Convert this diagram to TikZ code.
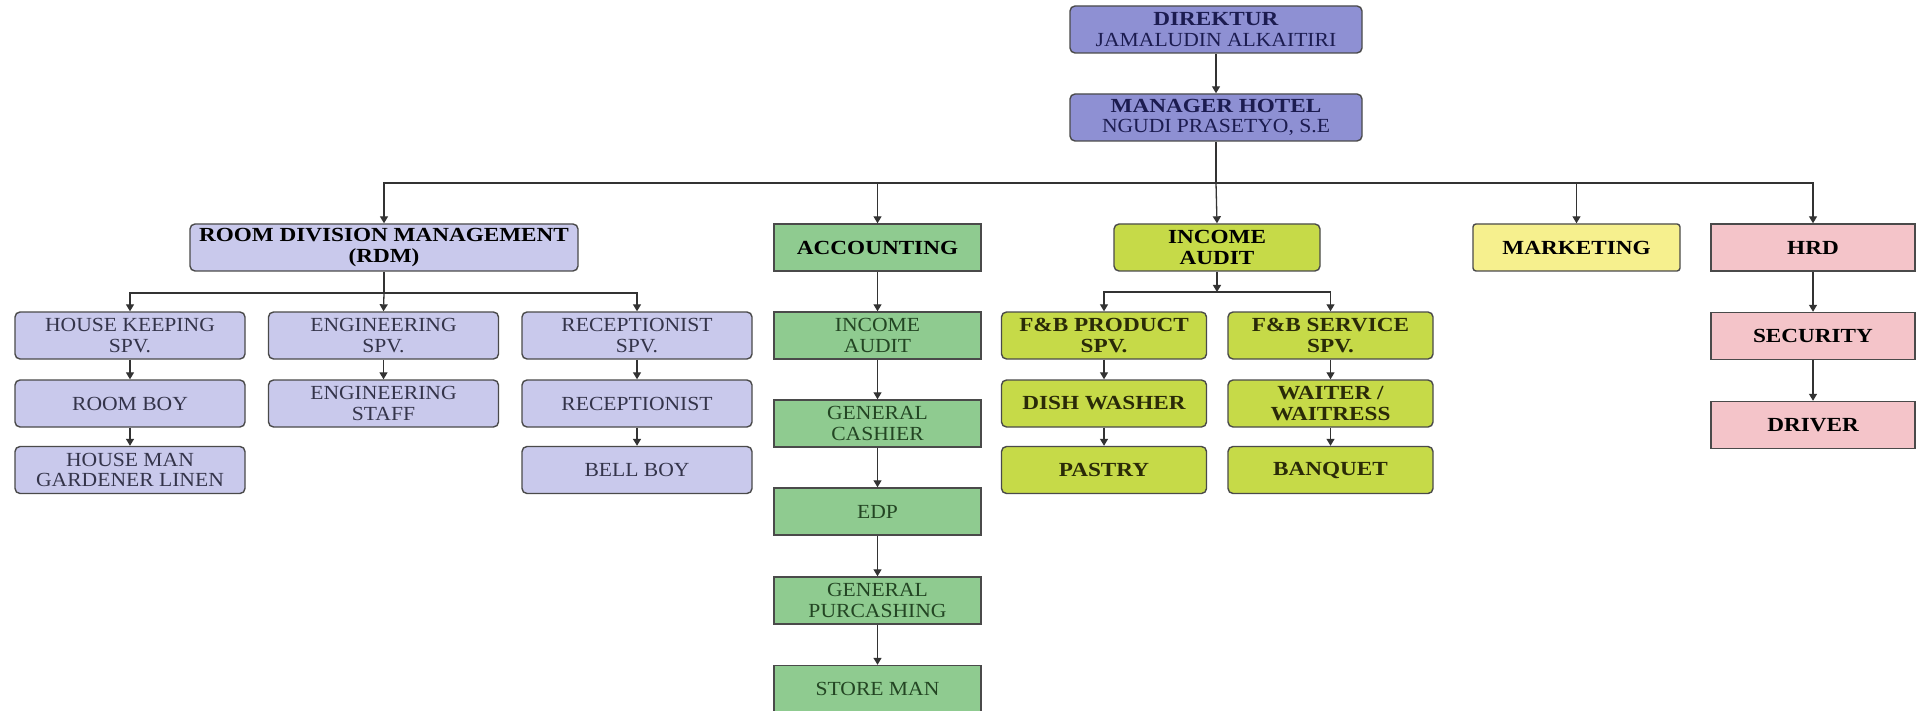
\documentclass[tikz,border=0pt]{standalone}
\usepackage{fontspec}
\setmainfont{Liberation Serif}[FakeStretch=1.08, BoldFeatures={FakeStretch=1.16}]
\usetikzlibrary{arrows.meta}
\definecolor{dirfill}{HTML}{8E90D3}
\definecolor{lavfill}{HTML}{C9C9EC}
\definecolor{grnfill}{HTML}{8FCB90}
\definecolor{ygfill}{HTML}{C6DA48}
\definecolor{mkfill}{HTML}{F6F08E}
\definecolor{pkfill}{HTML}{F4C4C9}
\definecolor{bordercol}{HTML}{4A4A4A}
\definecolor{linecol}{HTML}{333333}
\definecolor{navytxt}{HTML}{1C1C50}
\definecolor{lavtxt}{HTML}{34344A}
\definecolor{grntxt}{HTML}{234523}
\definecolor{ygtxt}{HTML}{2A2A08}
\tikzset{
  box/.style={draw=bordercol, line width=1.4pt, align=center, inner sep=0pt,
    minimum height=47pt, font=\fontsize{20}{20.5}\selectfont},
  dirbox/.style={box, fill=dirfill, rounded corners=5pt, minimum width=292pt, text=navytxt},
  lavhead/.style={box, fill=lavfill, rounded corners=5pt, text=black, font=\fontsize{20}{20.5}\selectfont\bfseries},
  lavbox/.style={box, fill=lavfill, rounded corners=5pt, minimum width=230pt, text=lavtxt},
  grnhead/.style={box, fill=grnfill, minimum width=207pt, text=black, font=\fontsize{20}{20.5}\selectfont\bfseries},
  grnbox/.style={box, fill=grnfill, minimum width=207pt, text=grntxt},
  yghead/.style={box, fill=ygfill, rounded corners=5pt, minimum width=206pt, text=black, font=\fontsize{20}{20.5}\selectfont\bfseries},
  ygbox/.style={box, fill=ygfill, rounded corners=5pt, minimum width=205pt, text=ygtxt, font=\fontsize{20}{20.5}\selectfont\bfseries},
  mkbox/.style={box, fill=mkfill, rounded corners=3pt, minimum width=207pt, text=black, font=\fontsize{20}{20.5}\selectfont\bfseries},
  pkbox/.style={box, fill=pkfill, minimum width=204pt, text=black, font=\fontsize{20}{20.5}\selectfont\bfseries},
  conn/.style={draw=linecol, line width=1.3pt},
  arr/.style={conn, -{Triangle[width=8pt,length=7pt]}}
}
\begin{document}
\begin{tikzpicture}[x=1pt,y=-1pt]
\useasboundingbox (0,0) rectangle (1924,711);
\fill[white] (0,0) rectangle (1924,711);
% top
\node[dirbox] (dir) at (1216,29.5) {\textbf{DIREKTUR}\\JAMALUDIN ALKAITIRI};
\node[dirbox] (mgr) at (1216,117.5) {\textbf{MANAGER HOTEL}\\NGUDI PRASETYO, S.E};
% heads
\node[lavhead, minimum width=388pt] (rdm) at (384,247.5) {ROOM DIVISION MANAGEMENT\\(RDM)};
\node[grnhead] (acc) at (877.5,247.5) {ACCOUNTING};
\node[yghead] (ia) at (1217,247.5) {INCOME\\AUDIT};
\node[mkbox] (mkt) at (1576.5,247.5) {MARKETING};
\node[pkbox] (hrd) at (1813,247.5) {HRD};
% RDM children
\node[lavbox] (hk) at (130,335.5) {HOUSE KEEPING\\SPV.};
\node[lavbox] (rb) at (130,403.5) {ROOM BOY};
\node[lavbox] (hm) at (130,470) {HOUSE MAN\\GARDENER LINEN};
\node[lavbox] (eng) at (383.5,335.5) {ENGINEERING\\SPV.};
\node[lavbox] (es) at (383.5,403.5) {ENGINEERING\\STAFF};
\node[lavbox] (rec) at (637,335.5) {RECEPTIONIST\\SPV.};
\node[lavbox] (rcp) at (637,403.5) {RECEPTIONIST};
\node[lavbox] (bb) at (637,470) {BELL BOY};
% accounting children
\node[grnbox] (ia2) at (877.5,335.5) {INCOME\\AUDIT};
\node[grnbox] (gc) at (877.5,423.5) {GENERAL\\CASHIER};
\node[grnbox] (edp) at (877.5,511.5) {EDP};
\node[grnbox] (gp) at (877.5,600.5) {GENERAL\\PURCASHING};
\node[grnbox] (sm) at (877.5,689) {STORE MAN};
% income audit children
\node[ygbox] (fbp) at (1104,335.5) {F\&B PRODUCT\\SPV.};
\node[ygbox] (dw) at (1104,403.5) {DISH WASHER};
\node[ygbox] (ps) at (1104,470) {PASTRY};
\node[ygbox] (fbs) at (1330.5,335.5) {F\&B SERVICE\\SPV.};
\node[ygbox] (ww) at (1330.5,403.5) {WAITER /\\WAITRESS};
\node[ygbox] (bq) at (1330.5,470) {BANQUET};
% HRD children
\node[pkbox] (sec) at (1813,336) {SECURITY};
\node[pkbox] (drv) at (1813,425) {DRIVER};
% connectors
\coordinate (bus) at (1216,183);
\coordinate (rbus) at (384,293);
\coordinate (ibus) at (1217,292);
\draw[arr] (dir) -- (mgr);
\draw[conn] (mgr.south) -- (bus);
\draw[arr] (bus) -| (rdm.north);
\draw[arr] (bus) -| (acc.north);
\draw[arr] (bus) -- (ia.north);
\draw[arr] (bus) -| (mkt.north);
\draw[arr] (bus) -| (hrd.north);
\draw[conn] (rdm.south) -- (rbus);
\draw[arr] (rbus) -| (hk.north);
\draw[arr] (rbus) -- (eng.north);
\draw[arr] (rbus) -| (rec.north);
\draw[arr] (hk) -- (rb);
\draw[arr] (rb) -- (hm);
\draw[arr] (eng) -- (es);
\draw[arr] (rec) -- (rcp);
\draw[arr] (rcp) -- (bb);
\draw[arr] (acc) -- (ia2);
\draw[arr] (ia2) -- (gc);
\draw[arr] (gc) -- (edp);
\draw[arr] (edp) -- (gp);
\draw[arr] (gp) -- (sm);
\draw[arr] (ia.south) -- (ibus);
\draw[arr] (ibus) -| (fbp.north);
\draw[arr] (ibus) -| (fbs.north);
\draw[arr] (fbp) -- (dw);
\draw[arr] (dw) -- (ps);
\draw[arr] (fbs) -- (ww);
\draw[arr] (ww) -- (bq);
\draw[arr] (hrd) -- (sec);
\draw[arr] (sec) -- (drv);
\end{tikzpicture}
\end{document}
